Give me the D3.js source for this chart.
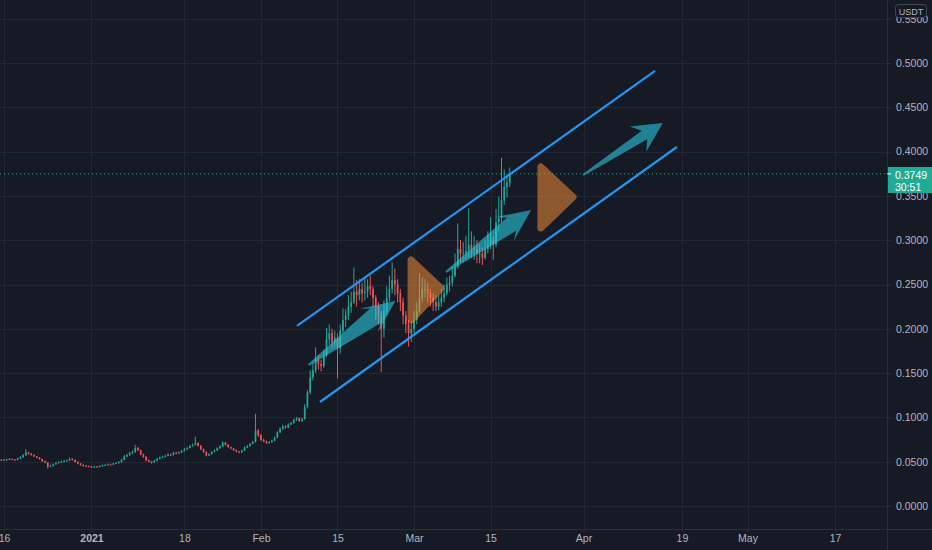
<!doctype html>
<html>
<head>
<meta charset="utf-8">
<script src="https://d3js.org/d3.v7.min.js"></script>
<style>
  body { margin: 0; background: #161a25; overflow: hidden; }
  text { font-family: "Liberation Sans", Arial, sans-serif; }
</style>
</head>
<body>
<script>
// 12h candles, the first one opens 2020-12-15 00:00 UTC, open = previous close
var candleStart = Date.UTC(2020, 11, 15);
var candleStepMs = 12 * 3600 * 1000;
var firstOpen = 0.0510;

var closes = [
  .0515,.0522, .0518,.0525, .0530,.0524, .0520,.0535, .0550,.0572,
  .0605,.0590, .0575,.0560, .0545,.0530, .0505,.0490, .0445,.0452,
  .0470,.0485, .0495,.0500, .0508,.0515, .0530,.0520, .0500,.0480,
  .0462,.0455, .0450,.0446, .0440,.0445, .0442,.0450, .0458,.0462,
  .0470,.0468, .0480,.0485, .0495,.0520, .0560,.0575, .0595,.0610,
  .0655,.0630, .0580,.0555, .0515,.0500, .0490,.0510, .0530,.0545,
  .0555,.0565, .0580,.0575, .0600,.0595, .0605,.0620, .0640,.0655,
  .0675,.0690, .0710,.0680, .0640,.0610, .0570,.0585, .0610,.0625,
  .0650,.0670, .0715,.0690, .0665,.0650, .0630,.0615, .0605,.0625,
  .0660,.0675, .0700,.0720, .0850,.0800, .0745,.0730, .0712,.0720,
  .0735,.0770, .0830,.0870, .0900,.0885, .0920,.0935, .0970,.0990,
  .0960,.0980, .1120,.1280, .1450,.1530, .1650,.1600, .1580,.1700,
  .1880,.1950, .1850,.1900, .1780,.1980, .2100,.2150, .2250,.2300,
  .2420,.2380, .2450,.2400, .2420,.2480, .2450,.2350, .2250,.2150,
  .2000,.2200, .2350,.2450, .2550,.2500, .2400,.2300, .2150,.2050,
  .1950,.2000, .2100,.2200, .2350,.2450, .2450,.2400, .2350,.2300,
  .2250,.2300, .2350,.2400, .2500,.2520, .2600,.2700, .2900,.2850,
  .2850,.2880, .2950,.2900, .2900,.2850, .2850,.2800, .2900,.2950,
  .3000,.2950, .3200,.3250, .3450,.3600, .3650,.3749
];
var highs = [
  .0528,.0530, .0530,.0535, .0540,.0538, .0530,.0545, .0562,.0585,
  .0640,.0612, .0598,.0582, .0565,.0552, .0535,.0512, .0495,.0465,
  .0480,.0495, .0505,.0512, .0518,.0525, .0548,.0538, .0525,.0505,
  .0485,.0470, .0462,.0458, .0452,.0455, .0452,.0460, .0468,.0472,
  .0480,.0478, .0490,.0495, .0508,.0532, .0575,.0590, .0612,.0625,
  .0690,.0665, .0638,.0590, .0562,.0525, .0508,.0520, .0542,.0558,
  .0568,.0578, .0595,.0590, .0612,.0610, .0618,.0632, .0655,.0668,
  .0690,.0705, .0780,.0720, .0688,.0648, .0618,.0595, .0620,.0638,
  .0662,.0685, .0730,.0722, .0698,.0672, .0655,.0638, .0622,.0635,
  .0672,.0688, .0712,.0735, .1040,.0870, .0810,.0760, .0738,.0732,
  .0748,.0785, .0845,.0888, .0918,.0910, .0935,.0950, .0985,.1005,
  .0998,.0995, .1150,.1310, .1530,.1620, .1790,.1700, .1650,.1760,
  .2010,.2050, .2000,.1980, .1950,.2050, .2230,.2220, .2380,.2420,
  .2690,.2550, .2560,.2520, .2580,.2560, .2600,.2480, .2380,.2300,
  .2200,.2320, .2480,.2600, .2750,.2680, .2560,.2450, .2350,.2200,
  .2100,.2080, .2200,.2300, .2630,.2580, .2560,.2520, .2450,.2400,
  .2380,.2380, .2450,.2500, .2580,.2600, .2700,.2850, .3190,.3000,
  .2980,.3050, .3360,.3100, .3050,.3000, .2950,.2920, .3000,.3100,
  .3260,.3050, .3350,.3490, .3930,.3800, .3750,.3820
];
var lows = [
  .0505,.0510, .0512,.0514, .0520,.0518, .0512,.0515, .0530,.0545,
  .0565,.0580, .0568,.0552, .0538,.0522, .0498,.0482, .0420,.0438,
  .0445,.0465, .0478,.0488, .0495,.0502, .0510,.0512, .0492,.0472,
  .0455,.0445, .0440,.0438, .0432,.0435, .0434,.0438, .0445,.0452,
  .0458,.0460, .0462,.0475, .0480,.0490, .0515,.0550, .0565,.0588,
  .0600,.0620, .0572,.0545, .0505,.0490, .0478,.0485, .0505,.0525,
  .0540,.0548, .0560,.0565, .0570,.0585, .0590,.0598, .0615,.0635,
  .0650,.0668, .0685,.0670, .0630,.0600, .0560,.0565, .0580,.0605,
  .0620,.0645, .0665,.0682, .0655,.0640, .0622,.0605, .0595,.0600,
  .0620,.0652, .0670,.0695, .0715,.0780, .0735,.0720, .0700,.0705,
  .0715,.0730, .0765,.0825, .0860,.0872, .0880,.0912, .0928,.0960,
  .0950,.0948, .0975,.1100, .1260,.1420, .1500,.1540, .1520,.1560,
  .1680,.1820, .1780,.1800, .1440,.1720, .1950,.2020, .2100,.2180,
  .2280,.2250, .2320,.2300, .2320,.2350, .2380,.2250, .2100,.2050,
  .1510,.1900, .2150,.2300, .2400,.2380, .2300,.2200, .2050,.1950,
  .1800,.1850, .1950,.2050, .2180,.2300, .2350,.2300, .2250,.2200,
  .2200,.2210, .2250,.2300, .2380,.2420, .2480,.2580, .2680,.2750,
  .2750,.2780, .2800,.2800, .2780,.2740, .2740,.2720, .2780,.2850,
  .2900,.2780, .2920,.3100, .3200,.3400, .3480,.3600
];

var priceTicks = [0, 0.05, 0.10, 0.15, 0.20, 0.25, 0.30, 0.35, 0.40, 0.45, 0.50, 0.55];
var dateTicks = ["2020-12-16", "2021-01-01", "2021-01-18", "2021-02-01", "2021-02-15", "2021-03-01",
                 "2021-03-15", "2021-04-01", "2021-04-19", "2021-05-01", "2021-05-17"];
var dateLabels = ["16", "2021", "18", "Feb", "15", "Mar", "15", "Apr", "19", "May", "17"];

var lastPrice = 0.3749;
var countdown = "30:51";
var currency = "USDT";

// drawings: [date, price]
var channelUpper = [["2021-02-07T14:00", 0.2032], ["2021-04-14T02:00", 0.4910]];
var channelLower = [["2021-02-11T19:00", 0.1174], ["2021-04-18T02:00", 0.4052]];
var triangles = [
  [["2021-02-28T11:00", 0.2777], ["2021-02-28T11:00", 0.2099], ["2021-03-05T22:00", 0.2460]],
  [["2021-03-24T05:00", 0.3826], ["2021-03-24T05:00", 0.3138], ["2021-03-30T02:00", 0.3488]]
];
var arrows = [  // tail, tip
  [["2021-02-09T17:00", 0.1591], ["2021-02-25T14:00", 0.2314]],
  [["2021-03-06T20:00", 0.2641], ["2021-03-22T10:00", 0.3341]],
  [["2021-03-31T22:00", 0.3736], ["2021-04-15T12:00", 0.4323]]
];

var W = 932, H = 550, plotW = 887, plotH = 529;
var bg = "#161a25", grid = "#232733", axisText = "#b2b5be";
var upColor = "#26a69a", downColor = "#ef5350";

var parse = function (s) { return new Date(s + (s.length > 10 ? ":00Z" : "T00:00:00Z")); };

var x = d3.scaleUtc()
    .domain([parse("2020-12-16"), parse("2021-05-17")])
    .range([4, 835]);
var y = d3.scaleLinear()
    .domain([0, 0.5])
    .range([506, 63]);

var candles = closes.map(function (c, i) {
  return {
    t: new Date(candleStart + i * candleStepMs),
    o: i === 0 ? firstOpen : closes[i - 1],
    h: highs[i], l: lows[i], c: c
  };
});

var svg = d3.select("body").append("svg")
    .attr("width", W).attr("height", H);

svg.append("rect").attr("width", W).attr("height", H).attr("fill", bg);

svg.append("clipPath").attr("id", "plot")
  .append("rect").attr("width", plotW).attr("height", plotH);

var plot = svg.append("g").attr("clip-path", "url(#plot)");

// grid
plot.append("g").selectAll("line").data(priceTicks).enter().append("line")
    .attr("x1", 0).attr("x2", plotW)
    .attr("y1", function (d) { return Math.round(y(d)) + 0.5; })
    .attr("y2", function (d) { return Math.round(y(d)) + 0.5; })
    .attr("stroke", grid);
plot.append("g").selectAll("line").data(dateTicks).enter().append("line")
    .attr("y1", 0).attr("y2", plotH)
    .attr("x1", function (d) { return Math.round(x(parse(d))) + 0.5; })
    .attr("x2", function (d) { return Math.round(x(parse(d))) + 0.5; })
    .attr("stroke", grid);

// candles
var step = x(new Date(candleStart + candleStepMs)) - x(new Date(candleStart));
var bodyW = step * 0.62;
var cg = plot.append("g");
cg.selectAll("line").data(candles).enter().append("line")
    .attr("x1", function (d) { return x(d.t); })
    .attr("x2", function (d) { return x(d.t); })
    .attr("y1", function (d) { return y(d.h); })
    .attr("y2", function (d) { return y(d.l); })
    .attr("stroke", function (d) { return d.c >= d.o ? upColor : downColor; })
    .attr("stroke-width", 1);
cg.selectAll("rect").data(candles).enter().append("rect")
    .attr("x", function (d) { return x(d.t) - bodyW / 2; })
    .attr("width", bodyW)
    .attr("y", function (d) { return y(Math.max(d.o, d.c)); })
    .attr("height", function (d) { return Math.max(1, Math.abs(y(d.o) - y(d.c))); })
    .attr("fill", function (d) { return d.c >= d.o ? upColor : downColor; });

// last price dotted line
plot.append("line")
    .attr("x1", 0).attr("x2", plotW)
    .attr("y1", y(lastPrice)).attr("y2", y(lastPrice))
    .attr("stroke", "#22ab94").attr("stroke-width", 1)
    .attr("stroke-dasharray", "1,3");

// channel
var pt = function (d) { return [x(parse(d[0])), y(d[1])]; };
[channelUpper, channelLower].forEach(function (ln) {
  var a = pt(ln[0]), b = pt(ln[1]);
  plot.append("line")
      .attr("x1", a[0]).attr("y1", a[1]).attr("x2", b[0]).attr("y2", b[1])
      .attr("stroke", "#2196f3").attr("stroke-width", 2.2);
});

// orange triangles
triangles.forEach(function (tri) {
  plot.append("g").attr("opacity", 0.52)
    .append("polygon")
      .attr("points", tri.map(function (d) { return pt(d).join(","); }).join(" "))
      .attr("fill", "#fa9137").attr("stroke", "#fa9137")
      .attr("stroke-width", 7).attr("stroke-linejoin", "round");
});

// teal arrows (body half width at the head differs per drawing)
var arrowBody = [9, 8, 5];
function arrowPath(t, p, wb) {
  var dx = p[0] - t[0], dy = p[1] - t[1], L = Math.hypot(dx, dy);
  var ux = dx / L, uy = dy / L, nx = -uy, ny = ux;
  function at(f, w) { return [t[0] + ux * L * f + nx * w, t[1] + uy * L * f + ny * w]; }
  var pts = [at(0, 1), at(0.77, wb), at(0.69, 15), p, at(0.69, -15), at(0.77, -wb), at(0, -1)];
  return "M" + pts.map(function (q) { return q.join(","); }).join("L") + "Z";
}
arrows.forEach(function (ar, i) {
  plot.append("path")
      .attr("d", arrowPath(pt(ar[0]), pt(ar[1]), arrowBody[i]))
      .attr("fill", "rgb(40,200,220)").attr("fill-opacity", 0.6);
});

// panel borders
svg.append("line").attr("x1", plotW + 0.5).attr("x2", plotW + 0.5)
    .attr("y1", 0).attr("y2", H).attr("stroke", "#2a2e39");
svg.append("line").attr("x1", 0).attr("x2", W)
    .attr("y1", plotH + 0.5).attr("y2", plotH + 0.5).attr("stroke", "#2a2e39");

// price axis
var yAxis = svg.append("g")
    .attr("transform", "translate(" + plotW + ",0)")
    .call(d3.axisRight(y).tickValues(priceTicks).tickFormat(d3.format(".4f"))
      .tickSize(4).tickPadding(5));
yAxis.select(".domain").remove();
yAxis.selectAll("line").attr("stroke", "#2a2e39");
yAxis.selectAll("text").attr("fill", axisText).attr("font-size", "10.5px");

// time axis
var xAxis = svg.append("g")
    .attr("transform", "translate(0," + plotH + ")")
    .call(d3.axisBottom(x).tickValues(dateTicks.map(parse))
      .tickFormat(function (d, i) { return dateLabels[i]; })
      .tickSize(3).tickPadding(3));
xAxis.select(".domain").remove();
xAxis.selectAll("line").attr("stroke", "#2a2e39");
xAxis.selectAll("text").attr("fill", axisText).attr("font-size", "10.5px")
    .attr("font-weight", function (d, i) { return dateLabels[i] === "2021" ? "bold" : null; });

// currency box
svg.append("rect").attr("x", 895.5).attr("y", 4.5).attr("width", 31).attr("height", 13)
    .attr("rx", 3).attr("fill", bg).attr("stroke", "#434651");
svg.append("text").attr("x", 911).attr("y", 14.5).attr("text-anchor", "middle")
    .attr("font-size", "9px").attr("fill", axisText).text(currency);

// last price label
svg.append("rect").attr("x", plotW + 1).attr("y", 167).attr("width", W - plotW - 1).attr("height", 26)
    .attr("fill", "#22ab94");
svg.append("line").attr("x1", plotW).attr("x2", plotW + 4)
    .attr("y1", y(lastPrice)).attr("y2", y(lastPrice)).attr("stroke", "#ffffff");
svg.append("text").attr("x", 895).attr("y", 179).attr("font-size", "10.5px")
    .attr("fill", "#ffffff").text(d3.format(".4f")(lastPrice));
svg.append("text").attr("x", 895).attr("y", 190.5).attr("font-size", "10.5px")
    .attr("fill", "#ffffff").text(countdown);
</script>
</body>
</html>
